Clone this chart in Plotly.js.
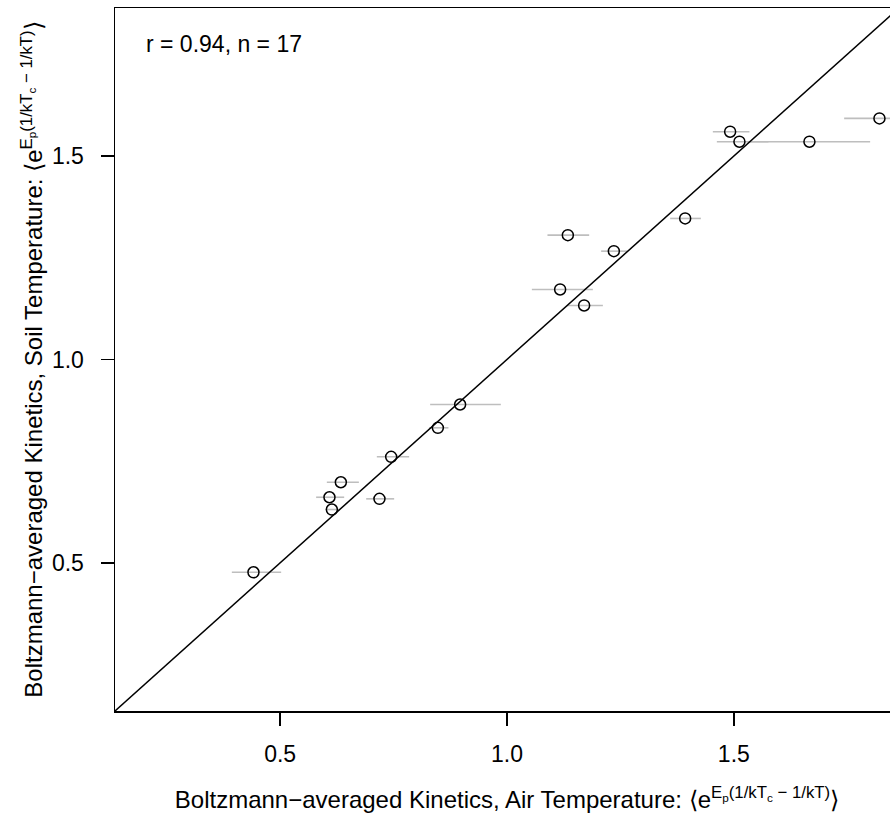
<!DOCTYPE html>
<html>
<head>
<meta charset="utf-8">
<script src="https://cdn.plot.ly/plotly-3.0.1.min.js"></script>
<style>
html, body { margin: 0; padding: 0; overflow: hidden; background: #fff; }
#chart { width: 900px; height: 814px; }
</style>
</head>
<body>
<div id="chart"></div>
<script>
// Air-temperature kinetics (x): mean with lower / upper range
const airMean = [1.4918, 1.5123, 1.6666, 1.8209, 1.1341, 1.2355, 1.3927, 1.1171, 1.1700, 0.8967, 0.8476, 0.7447, 0.6338, 0.6087, 0.7189, 0.6140, 0.4412];
const airLow  = [1.4537, 1.4625, 1.5315, 1.7431, 1.0892, 1.2075, 1.3596, 1.0548, 1.1319, 0.8306, 0.8284, 0.7131, 0.6029, 0.5793, 0.6896, 0.6000, 0.3935];
const airHigh = [1.5344, 1.5763, 1.8004, 1.8987, 1.1811, 1.2655, 1.4273, 1.1892, 1.2113, 0.9864, 0.8709, 0.7843, 0.6735, 0.6411, 0.7513, 0.6300, 0.5022];
// Soil-temperature kinetics (y)
const soilMean = [1.5599, 1.5353, 1.5353, 1.5926, 1.3056, 1.2663, 1.3467, 1.1721, 1.1328, 0.8894, 0.8321, 0.7608, 0.6983, 0.6614, 0.6575, 0.6312, 0.4770];

const tickVals = [0.5, 1.0, 1.5];
const tickText = ['0.5', '1.0', '1.5'];
const axisLim = [0.2, 1.8];
const statText = 'r = 0.94, n = 17';

const ext = (axisLim[1] - axisLim[0]) * 0.04;
const axRange = [axisLim[0] - ext, axisLim[1] + ext];

const font = 'Liberation Sans, Arial, Helvetica, sans-serif';

const points = {
  type: 'scatter', mode: 'markers',
  x: airMean, y: soilMean,
  marker: { symbol: 'circle-open', size: 11, color: '#000', line: { width: 1.5, color: '#000' } },
  error_x: {
    type: 'data', symmetric: false,
    array: airHigh.map((h, i) => h - airMean[i]),
    arrayminus: airLow.map((l, i) => airMean[i] - l),
    color: '#BEBEBE', thickness: 1.6, width: 0
  },
  cliponaxis: true, showlegend: false, hoverinfo: 'x+y'
};

const oneToOne = {
  type: 'scatter', mode: 'lines',
  x: axRange, y: axRange,
  line: { color: '#000', width: 1.5 },
  showlegend: false, hoverinfo: 'skip'
};

const titleX = 'Boltzmann\u2212averaged Kinetics, Air Temperature: \u27E8e<sup>E<sub>p</sub>(1/kT<sub>c</sub> \u2212 1/kT)</sup>\u27E9';
const titleY = 'Boltzmann\u2212averaged Kinetics, Soil Temperature: \u27E8e<sup>E<sub>p</sub>(1/kT<sub>c</sub> \u2212 1/kT)</sup>\u27E9';

const layout = {
  width: 900, height: 814,
  margin: { l: 115, r: 1, t: 8, b: 103 },
  paper_bgcolor: '#fff', plot_bgcolor: '#fff',
  font: { family: font, color: '#000', size: 23 },
  xaxis: {
    range: axRange, tickvals: tickVals, ticktext: tickText,
    showgrid: false, zeroline: false,
    showline: true, mirror: true, linecolor: '#000', linewidth: 1.5,
    ticks: 'outside', ticklen: 13, tickwidth: 1.5, tickcolor: '#000',
    ticklabelstandoff: 9,
    tickfont: { family: font, size: 23, color: '#000' },
    title: { text: titleX, font: { family: font, size: 24, color: '#000' }, standoff: 25 }
  },
  yaxis: {
    range: axRange, tickvals: tickVals, ticktext: tickText,
    showgrid: false, zeroline: false,
    showline: true, mirror: false, linecolor: '#000', linewidth: 1.5,
    ticks: 'outside', ticklen: 13, tickwidth: 1.5, tickcolor: '#000',
    ticklabelstandoff: 12,
    tickfont: { family: font, size: 23, color: '#000' },
    title: { text: titleY, font: { family: font, size: 24, color: '#000' }, standoff: 2 }
  },
  annotations: [{
    text: statText, xref: 'paper', yref: 'paper',
    x: 0.037, y: 0.949, xanchor: 'left', yanchor: 'middle',
    showarrow: false, font: { family: font, size: 23, color: '#000' }
  }]
};

Plotly.newPlot('chart', [points, oneToOne], layout, { displayModeBar: false, staticPlot: true });
</script>
</body>
</html>
